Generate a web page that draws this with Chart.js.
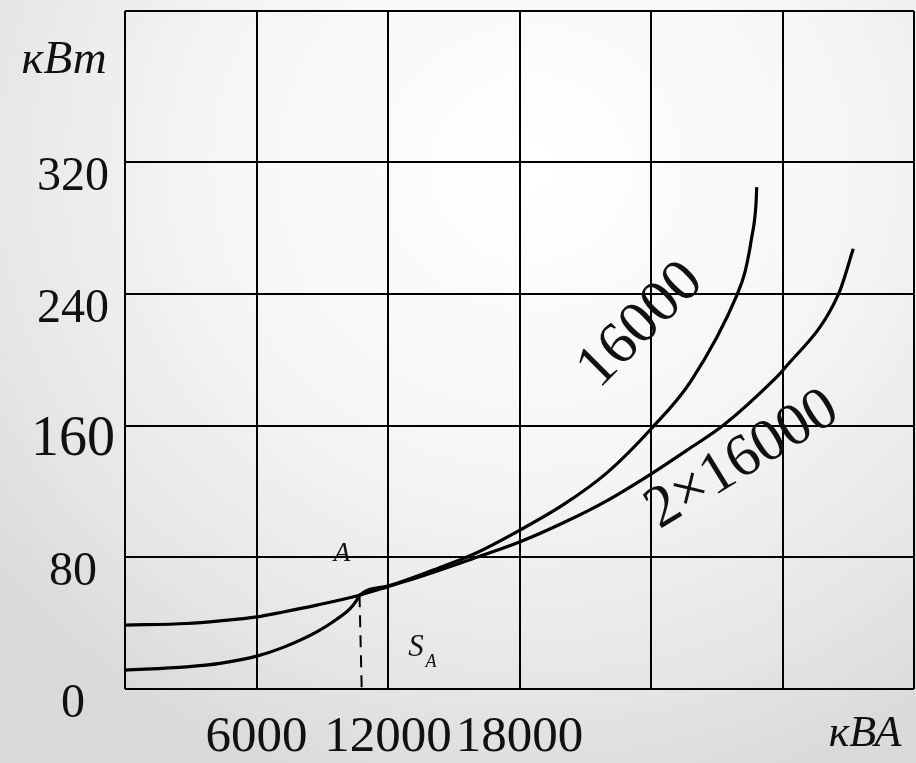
<!DOCTYPE html>
<html>
<head>
<meta charset="utf-8">
<script src="https://cdn.jsdelivr.net/npm/chart.js@4.4.1/dist/chart.umd.min.js"></script>
<style>
    html, body {
        margin: 0;
        padding: 0;
        width: 916px;
        height: 763px;
        overflow: hidden;
        background: radial-gradient(ellipse 75% 85% at 58% 22%, #ffffff 0%, #f6f6f6 45%, #e6e6e6 80%, #dadada 100%);
    }
    canvas { display: block; }
</style>
</head>
<body>
<canvas id="lossChart" width="916" height="763"></canvas>
<script>
// Axis ticks
var xTicks = [0, 6000, 12000, 18000, 24000, 30000, 36000];
var xTickLabels = ["", "6000", "12000", "18000", "", "", ""];
var yTicks = [0, 80, 160, 240, 320, 412];
var yTickLabels = ["0", "80", "160", "240", "320", ""];

// One transformer 16000 kVA: load (kVA) -> losses (kW)
var oneLoad = [0, 2815, 4335, 6010, 7220, 8750, 9660, 10270, 10570, 10700, 12000, 14000, 16000, 18000, 20000, 22000, 24000, 25830, 27940, 28300, 28590, 28790, 28825];
var oneLoss = [11.5, 13.5, 15.6, 20, 25.3, 34.7, 42.4, 48.9, 53.9, 57, 62.6, 72, 82.5, 96.4, 112, 131.5, 158, 187.3, 240, 254, 274, 294.5, 305];

// Two transformers 2x16000 kVA
var twoLoad = [0, 2815, 4335, 6010, 7220, 8750, 10700, 12000, 14050, 16050, 18000, 20000, 22000, 24030, 25630, 27300, 29580, 30040, 32550, 33230];
var twoLoss = [38.8, 39.8, 41.4, 43.8, 46.8, 51, 57, 62.2, 70.8, 80, 89.3, 101, 114.5, 130.9, 145, 160.2, 187.5, 194, 239.8, 267.5];

// Crossing point A (S_A)
var pointA = { s: 10700, p: 57 };

function toPoints(xs, ys) {
    return xs.map(function (v, i) {
        return { x: v, y: ys[i] };
    });
}

var serif = '"Liberation Serif", "Times New Roman", serif';

function drawText(ctx, text, px, py, font, angle) {
    ctx.save();
    ctx.translate(px, py);
    if (angle) ctx.rotate((angle * Math.PI) / 180);
    ctx.font = font;
    ctx.fillStyle = "#111";
    ctx.textAlign = "center";
    ctx.textBaseline = "middle";
    ctx.fillText(text, 0, 0);
    ctx.restore();
}

// Units, curve names and the A / S_A marks
var labelsPlugin = {
    id: "labels",
    afterDatasetsDraw: function (chart) {
        var ctx = chart.ctx;
        var x = chart.scales.x;
        var y = chart.scales.y;
        var area = chart.chartArea;

        drawText(ctx, "кВт", area.left - 61, area.top + 50, "italic 47px " + serif);
        drawText(ctx, "кВА", area.right - 49, area.bottom + 45, "italic 44px " + serif);

        drawText(ctx, "16000", x.getPixelForValue(23540), y.getPixelForValue(221), "60px " + serif, -45);
        drawText(ctx, "2×16000", x.getPixelForValue(28170), y.getPixelForValue(139), "60px " + serif, -31.5);

        drawText(ctx, "A", x.getPixelForValue(9900), y.getPixelForValue(82), "italic 27px " + serif);
        drawText(ctx, "S", x.getPixelForValue(13280), y.getPixelForValue(25), "italic 31px " + serif);
        drawText(ctx, "A", x.getPixelForValue(13280) + 15, y.getPixelForValue(25) + 14, "italic 18px " + serif);
    },
};

new Chart(document.getElementById("lossChart"), {
    type: "line",
    data: {
        datasets: [
            {
                label: "16000",
                data: toPoints(oneLoad, oneLoss),
                borderColor: "#000",
                borderWidth: 3.2,
                pointRadius: 0,
                cubicInterpolationMode: "monotone",
            },
            {
                label: "2×16000",
                data: toPoints(twoLoad, twoLoss),
                borderColor: "#000",
                borderWidth: 3.2,
                pointRadius: 0,
                cubicInterpolationMode: "monotone",
            },
            {
                label: "S_A",
                data: [
                    { x: pointA.s, y: pointA.p },
                    { x: pointA.s + 100, y: 0 },
                ],
                borderColor: "#000",
                borderWidth: 2,
                borderDash: [12, 8],
                pointRadius: 0,
                tension: 0,
            },
        ],
    },
    options: {
        responsive: false,
        animation: false,
        layout: { padding: { top: 11, right: 2, left: 0, bottom: 0 } },
        plugins: {
            legend: { display: false },
            tooltip: { enabled: false },
        },
        scales: {
            x: {
                type: "linear",
                min: 0,
                max: 36000,
                afterBuildTicks: function (scale) {
                    scale.ticks = xTicks.map(function (v) {
                        return { value: v };
                    });
                },
                afterFit: function (scale) {
                    scale.height = 74;
                    scale.paddingLeft = 0;
                    scale.paddingRight = 0;
                },
                grid: { color: "#000", lineWidth: 2, drawTicks: false },
                border: { display: false },
                ticks: {
                    autoSkip: false,
                    minRotation: 0,
                    maxRotation: 0,
                    padding: 18,
                    color: "#111",
                    font: { family: serif, size: 51 },
                    callback: function (value, index) {
                        return xTickLabels[index];
                    },
                },
            },
            y: {
                type: "linear",
                min: 0,
                max: 412,
                afterBuildTicks: function (scale) {
                    scale.ticks = yTicks.map(function (v) {
                        return { value: v };
                    });
                },
                afterFit: function (scale) {
                    scale.width = 125;
                    scale.paddingTop = 0;
                    scale.paddingBottom = 0;
                },
                grid: { color: "#000", lineWidth: 2, drawTicks: false },
                border: { display: false },
                ticks: {
                    autoSkip: false,
                    padding: 10,
                    crossAlign: "center",
                    labelOffset: 15,
                    color: "#111",
                    font: function (c) {
                        var big = c.tick && c.tick.value === 160;
                        return { family: serif, size: big ? 56 : 48 };
                    },
                    callback: function (value, index) {
                        return yTickLabels[index];
                    },
                },
            },
        },
    },
    plugins: [labelsPlugin],
});
</script>
</body>
</html>
